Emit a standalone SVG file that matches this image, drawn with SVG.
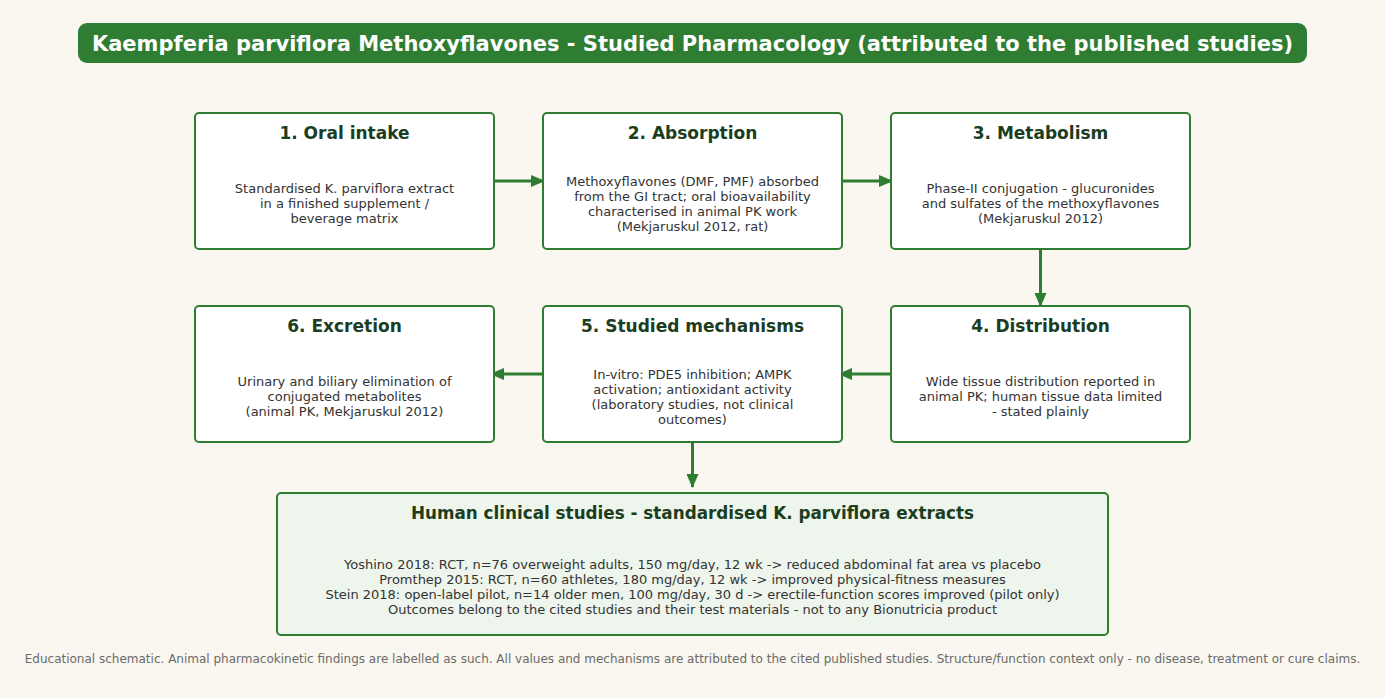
<svg xmlns="http://www.w3.org/2000/svg" width="1385" height="698" viewBox="0 0 1385 698">
<defs>
<marker id="ah" markerWidth="14" markerHeight="12" refX="13" refY="6" orient="auto" markerUnits="userSpaceOnUse">
<path d="M0,0 L14,6 L0,12 Z" fill="#2e7d32"/>
</marker>
<style>
text{font-family:"DejaVu Sans","Liberation Sans",sans-serif;text-anchor:middle}
.box{fill:#ffffff;stroke:#2e7d32;stroke-width:2}
.hbox{fill:#eef5ec;stroke:#2e7d32;stroke-width:2}
.t{font-size:17px;font-weight:bold;fill:#1b3d20}
.b{font-size:13px;fill:#333333}
.c{stroke:#2e7d32;stroke-width:3;fill:none;marker-end:url(#ah)}
</style>
</defs>
<rect width="1385" height="698" fill="#f9f7ef"/>
<g id="title">
<rect x="78" y="23" width="1229" height="40" rx="9" fill="#2e7d32"/>
<text x="692.5" y="50.5" style="font-size:21px;font-weight:bold;fill:#ffffff">Kaempferia parviflora Methoxyflavones - Studied Pharmacology (attributed to the published studies)</text>
</g>
<g id="connectors">
<line class="c" x1="490" y1="181" x2="544" y2="181"/>
<line class="c" x1="838" y1="181" x2="892" y2="181"/>
<line class="c" x1="1040.5" y1="247" x2="1040.5" y2="306"/>
<line class="c" x1="895" y1="374" x2="839" y2="374"/>
<line class="c" x1="547" y1="374" x2="491" y2="374"/>
<line class="c" x1="692.5" y1="440" x2="692.5" y2="487"/>
</g>
<g id="n1">
<rect class="box" x="195" y="113" width="299" height="136" rx="4"/>
<text class="t" x="344.5" y="139">1. Oral intake</text>
<text class="b" x="344.5" y="193">Standardised K. parviflora extract</text>
<text class="b" x="344.5" y="208">in a finished supplement /</text>
<text class="b" x="344.5" y="223">beverage matrix</text>
</g>
<g id="n2">
<rect class="box" x="543" y="113" width="299" height="136" rx="4"/>
<text class="t" x="692.5" y="139">2. Absorption</text>
<text class="b" x="692.5" y="186">Methoxyflavones (DMF, PMF) absorbed</text>
<text class="b" x="692.5" y="201">from the GI tract; oral bioavailability</text>
<text class="b" x="692.5" y="216">characterised in animal PK work</text>
<text class="b" x="692.5" y="231">(Mekjaruskul 2012, rat)</text>
</g>
<g id="n3">
<rect class="box" x="891" y="113" width="299" height="136" rx="4"/>
<text class="t" x="1040.5" y="139">3. Metabolism</text>
<text class="b" x="1040.5" y="193">Phase-II conjugation - glucuronides</text>
<text class="b" x="1040.5" y="208">and sulfates of the methoxyflavones</text>
<text class="b" x="1040.5" y="223">(Mekjaruskul 2012)</text>
</g>
<g id="n4">
<rect class="box" x="891" y="306" width="299" height="136" rx="4"/>
<text class="t" x="1040.5" y="332">4. Distribution</text>
<text class="b" x="1040.5" y="386">Wide tissue distribution reported in</text>
<text class="b" x="1040.5" y="401">animal PK; human tissue data limited</text>
<text class="b" x="1040.5" y="416">- stated plainly</text>
</g>
<g id="n5">
<rect class="box" x="543" y="306" width="299" height="136" rx="4"/>
<text class="t" x="692.5" y="332">5. Studied mechanisms</text>
<text class="b" x="692.5" y="379">In-vitro: PDE5 inhibition; AMPK</text>
<text class="b" x="692.5" y="394">activation; antioxidant activity</text>
<text class="b" x="692.5" y="409">(laboratory studies, not clinical</text>
<text class="b" x="692.5" y="424">outcomes)</text>
</g>
<g id="n6">
<rect class="box" x="195" y="306" width="299" height="136" rx="4"/>
<text class="t" x="344.5" y="332">6. Excretion</text>
<text class="b" x="344.5" y="386">Urinary and biliary elimination of</text>
<text class="b" x="344.5" y="401">conjugated metabolites</text>
<text class="b" x="344.5" y="416">(animal PK, Mekjaruskul 2012)</text>
</g>
<g id="clinical">
<rect class="hbox" x="277" y="493" width="831" height="142" rx="4"/>
<text class="t" x="692.5" y="519" style="font-size:16.8px">Human clinical studies - standardised K. parviflora extracts</text>
<text class="b" x="692.5" y="569">Yoshino 2018: RCT, n=76 overweight adults, 150 mg/day, 12 wk -&gt; reduced abdominal fat area vs placebo</text>
<text class="b" x="692.5" y="584">Promthep 2015: RCT, n=60 athletes, 180 mg/day, 12 wk -&gt; improved physical-fitness measures</text>
<text class="b" x="692.5" y="599">Stein 2018: open-label pilot, n=14 older men, 100 mg/day, 30 d -&gt; erectile-function scores improved (pilot only)</text>
<text class="b" x="692.5" y="614">Outcomes belong to the cited studies and their test materials - not to any Bionutricia product</text>
</g>
<g id="footer">
<text x="692.5" y="662.5" style="font-size:12px;fill:#6b6b6b">Educational schematic. Animal pharmacokinetic findings are labelled as such. All values and mechanisms are attributed to the cited published studies. Structure/function context only - no disease, treatment or cure claims.</text>
</g>
</svg>
